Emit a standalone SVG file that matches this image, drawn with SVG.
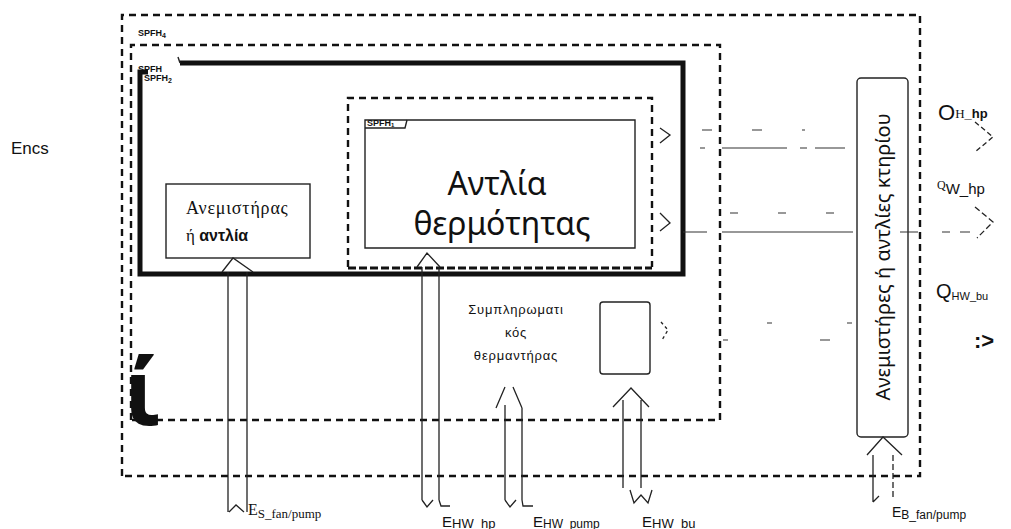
<svg xmlns="http://www.w3.org/2000/svg" width="1011" height="529" viewBox="0 0 1011 529">
<style>
.dash{fill:none;stroke:#111;stroke-width:2.4;stroke-dasharray:7 5}
.dense{fill:none;stroke:#111;stroke-width:3;stroke-dasharray:8 3}
.thick{fill:none;stroke:#111;stroke-width:5}
.box{fill:none;stroke:#222;stroke-width:1.4}
.arr{fill:none;stroke:#222;stroke-width:1.3}
.conn{fill:none;stroke:#333;stroke-width:1.2}
.sp{font-family:"Liberation Sans",Arial,sans-serif;font-weight:bold;font-size:9px;fill:#111}
.lbl{font-family:"Liberation Sans",Arial,sans-serif;fill:#111}
.ser{font-family:"Liberation Serif","Times New Roman",serif;fill:#111}
.big{font-family:"Noto Sans","Open Sans",sans-serif;fill:#111}
</style>
<rect width="1011" height="529" fill="#fff"/>

<g id="boundary-spfh4">
<path class="dash" d="M122,476 V15 H920 V476 H122"/>
<text class="sp" x="138" y="36">SPFH<tspan font-size="7" dy="2">4</tspan></text>
</g>
<g id="boundary-spfh3">
<path class="dash" d="M131,420 V45 H720 V420 H131"/>
<text class="sp" x="138" y="72">SPFH</text>
</g>
<g id="boundary-spfh2">
<path class="thick" d="M180,63 H683 V274 H140 V72 H148"/>
<path class="box" d="M178,57 L180,63"/>
<text class="sp" x="144" y="81">SPFH<tspan font-size="7" dy="2">2</tspan></text>
</g>
<g id="boundary-spfh1">
<path class="dash" d="M348,267 V98 H652 V267"/>
<path class="dense" d="M348,268 H652"/>
</g>

<g id="heat-pump">
<path class="box" d="M365,248 V120 H635 V248 Z"/>
<path class="box" d="M365,128 H405 L407,120"/>
<text class="sp" x="367" y="126" font-size="8">SPFH<tspan font-size="6" dy="1">1</tspan></text>
<text class="big" x="497" y="195" font-size="32" text-anchor="middle">Αντλία</text>
<text class="big" x="502" y="235" font-size="32" text-anchor="middle">θερμότητας</text>
</g>

<g id="fan-or-pump">
<rect class="box" x="166" y="184" width="144" height="74"/>
<text class="ser" x="186" y="214" font-size="18" letter-spacing="0.8">Ανεμιστήρας</text>
<text x="186" y="241" font-size="17"><tspan class="ser">ή </tspan><tspan class="lbl" font-weight="bold" font-size="16">αντλία</tspan></text>
</g>

<g id="supplementary-heater">
<text class="lbl" x="516" y="314" font-size="13" letter-spacing="0.8" text-anchor="middle">Συμπληρωματι</text>
<text class="lbl" x="516" y="337" font-size="13" letter-spacing="0.8" text-anchor="middle">κός</text>
<text class="lbl" x="516" y="360" font-size="13" letter-spacing="0.8" text-anchor="middle">θερμαντήρας</text>
<rect class="box" x="600" y="302" width="50" height="72" rx="3"/>
</g>

<g id="building-fans">
<rect class="box" x="857" y="78" width="51" height="359" rx="4"/>
<text class="big" x="0" y="0" font-size="20" text-anchor="middle" transform="translate(890,257) rotate(-90)">Ανεμιστήρες ή αντλίες κτηρίου</text>
</g>

<g id="labels">
<text class="lbl" x="11" y="154" font-size="17">Encs</text>
<text class="big" x="124" y="425" font-size="92" font-weight="bold">ί</text>
<text x="938" y="120"><tspan class="lbl" font-size="22">O</tspan><tspan class="ser" font-size="13" dy="-2">H</tspan><tspan class="lbl" font-size="13" font-weight="bold">_hp</tspan></text>
<text x="937" y="189"><tspan class="ser" font-size="12">Q</tspan><tspan class="lbl" font-size="15" dy="5">W_hp</tspan></text>
<text x="936" y="298"><tspan class="lbl" font-size="20">Q</tspan><tspan class="lbl" font-size="11" dy="2">HW_bu</tspan></text>
<text class="lbl" x="974" y="348" font-size="22" font-weight="bold">:&gt;</text>
<text x="248" y="515"><tspan class="ser" font-size="16">E</tspan><tspan class="ser" font-size="13" dy="3">S_fan/pump</tspan></text>
<text x="442" y="527"><tspan class="lbl" font-size="15">E</tspan><tspan class="lbl" font-size="13" dy="1">HW_hp</tspan></text>
<text x="533" y="527"><tspan class="lbl" font-size="15">E</tspan><tspan class="lbl" font-size="12" dy="1">HW_pump</tspan></text>
<text x="642" y="527"><tspan class="lbl" font-size="15">E</tspan><tspan class="lbl" font-size="13" dy="1">HW_bu</tspan></text>
<text x="892" y="517"><tspan class="lbl" font-size="14">E</tspan><tspan class="lbl" font-size="12" dy="2">B_fan/pump</tspan></text>
</g>

<g id="connectors">
<path class="arr" d="M222,272 L233,258 L253,272 M228,272 V512 M247,272 V512 M229,512 L236,505 L244,512"/>
<path class="arr" d="M417,267 L427,253 L440,267 M422,267 V500 M439,267 V500 M422,500 L427,507 L433,500 M439,500 L441,506 L450,506"/>
<path class="arr" d="M496,408 L505,387 M513,387 L522,408 M505,405 V500 M522,408 V500 M505,500 L510,507 L516,500 M522,500 L523,506 L533,506"/>
<path class="arr" d="M613,407 L631,388 L649,407 M623,400 V488 M641,400 V488 M630,490 L634,503 L641,495 L648,503 L652,490"/>
<path class="arr" d="M867,455 L883,437 L902,455 M873,455 V502 M873,502 L879,496"/>
<path class="arr" stroke-dasharray="6 3" d="M893,455 V500"/>
<path class="arr" d="M660,128 L670,135 L660,143 M660,213 L670,223 L660,231"/>
<path class="arr" stroke-dasharray="3 3" d="M661,322 L668,330 L662,340"/>
<path class="conn" stroke-dasharray="10 40" d="M702,130 H805"/>
<path class="conn" d="M700,148 H705 M722,148 H787 M800,148 H807 M815,148 H845"/>
<path class="conn" stroke-dasharray="8 40" d="M730,213 H845"/>
<path class="conn" d="M683,232 H707 M722,232 H853 M900,232 H918 M942,232 H950 M960,232 H970"/>
<path class="conn" d="M767,323 H772 M847,323 H852 M723,340 H728 M820,340 H830"/>
<path class="arr" stroke-dasharray="5 3" d="M975,122 L993,137 L975,152"/>
<path class="arr" stroke-dasharray="6 3" d="M975,207 L993,222 L977,238"/>
</g>
</svg>
